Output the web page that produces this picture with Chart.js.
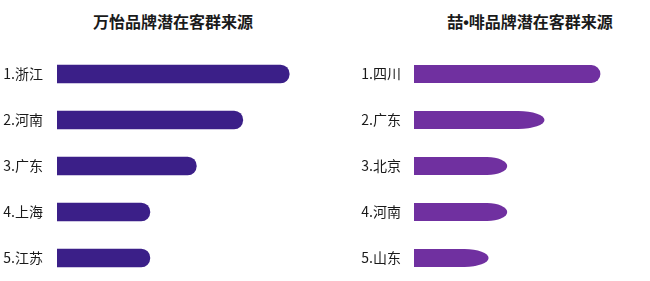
<!DOCTYPE html>
<html>
<head>
<meta charset="utf-8">
<script src="https://cdn.jsdelivr.net/npm/chart.js@4"></script>
<style>
  html, body { margin: 0; padding: 0; background: #fff; }
  body { width: 650px; height: 281px; position: relative; overflow: hidden;
         font-family: "Noto Sans CJK SC", "Noto Sans", sans-serif; }
  .box { position: absolute; top: 0; width: 325px; height: 281px; }
  .title { position: absolute; top: 10px; font-size: 16px; font-weight: bold; color: #1a1a1a;
           white-space: nowrap; transform: translateX(-50%); line-height: 22px; }
  .dot { font-family: "Liberation Sans", "DejaVu Sans", sans-serif; }
</style>
</head>
<body>
<div class="title" style="left:173px">万怡品牌潜在客群来源</div>
<div class="title" style="left:530px">喆<span class="dot">•</span>啡品牌潜在客群来源</div>
<div class="box" style="left:0"><canvas id="c1" width="325" height="281"></canvas></div>
<div class="box" style="left:325px"><canvas id="c2" width="325" height="281"></canvas></div>
<script>
// ---- data ----
const leftCategories = ["1.浙江", "2.河南", "3.广东", "4.上海", "5.江苏"];
const leftValues = [5, 4, 3, 2, 2];
const rightCategories = ["1.四川", "2.广东", "3.北京", "4.河南", "5.山东"];
const rightValues = [10, 7, 5, 5, 4];

// ---- style ----
const leftColor = "#3b1f88";
const rightColor = "#7030a0";
const rightTipLengths = [9, 26, 20, 20, 24];

const tipPlugin = {
  id: 'tipBars',
  beforeDatasetDraw(chart, args, opts) {
    if (!opts.tips) return;
    const ctx = chart.ctx;
    const meta = args.meta;
    ctx.save();
    meta.data.forEach((el, i) => {
      const p = el.getProps(['x', 'y', 'base', 'height'], true);
      const h = p.height / 2;
      const rx = Math.min(opts.tips[i] || h, p.x - p.base);
      ctx.beginPath();
      ctx.moveTo(p.base, p.y - h);
      ctx.lineTo(p.x - rx, p.y - h);
      ctx.ellipse(p.x - rx, p.y, rx, h, 0, -Math.PI / 2, Math.PI / 2);
      ctx.lineTo(p.base, p.y + h);
      ctx.closePath();
      ctx.fillStyle = opts.color;
      ctx.fill();
    });
    ctx.restore();
    return false;
  }
};

function makeChart(id, labels, values, color, axisWidth, labelPad, xMax, tips) {
  return new Chart(document.getElementById(id), {
    type: 'bar',
    data: {
      labels: labels,
      datasets: [{
        data: values,
        backgroundColor: color,
        barThickness: 18,
        borderRadius: tips ? 0 : { topRight: 9, bottomRight: 9 },
        borderSkipped: false
      }]
    },
    options: {
      indexAxis: 'y',
      responsive: false,
      animation: false,
      layout: { padding: { top: 51, bottom: 0, left: 0, right: 0 } },
      plugins: {
        legend: { display: false },
        tooltip: { enabled: false },
        tipBars: { tips: tips, color: color }
      },
      scales: {
        x: { display: false, min: 0, max: xMax },
        y: {
          grid: { display: false, drawTicks: false },
          border: { display: false },
          ticks: {
            padding: labelPad,
            color: '#1a1a1a',
            font: { size: 14, family: '"Noto Sans CJK SC", "Noto Sans", sans-serif' }
          },
          afterFit(scale) {
            scale.width = axisWidth;
            scale.paddingTop = 0;
            scale.paddingBottom = 0;
          }
        }
      }
    },
    plugins: [tipPlugin]
  });
}

makeChart('c1', leftCategories, leftValues, leftColor, 57, 14, 5.77, null);
makeChart('c2', rightCategories, rightValues, rightColor, 89, 13, 12.66, rightTipLengths);
</script>
</body>
</html>
